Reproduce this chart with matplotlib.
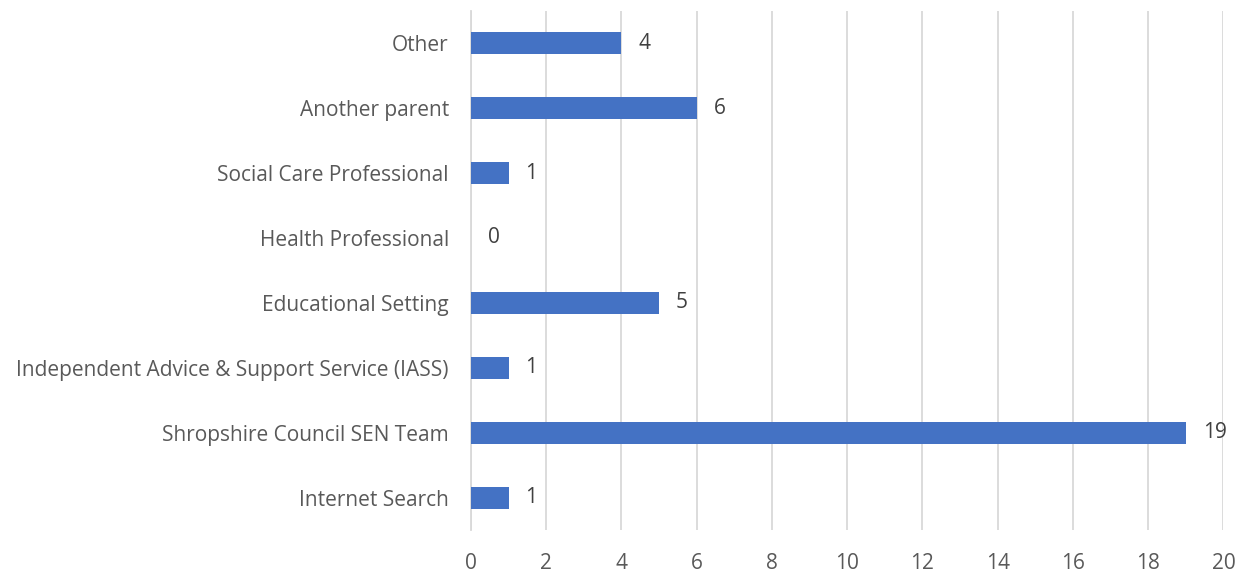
import matplotlib
matplotlib.use("Agg")
import matplotlib.pyplot as plt

categories = ["Internet Search", "Shropshire Council SEN Team",
              "Independent Advice & Support Service (IASS)", "Educational Setting",
              "Health Professional", "Social Care Professional", "Another parent", "Other"]
values = [1, 19, 1, 5, 0, 1, 6, 4]
x_ticks = list(range(0, 21, 2))

plt.rcParams['font.family'] = ['Open Sans', 'DejaVu Sans']

fig = plt.figure(figsize=(12.51, 5.74), dpi=100)
ax = fig.add_axes([0.3765, 0.0758, 0.978 - 0.3765, 0.9817 - 0.0758])

ypos = range(len(categories))
ax.barh(ypos, values, height=0.35, color='#4472C4', zorder=3)
for y, v in zip(ypos, values):
    ax.text(v + 0.45, y, str(v), va='center', ha='left', fontsize=15, color='#404040')

ax.set_xlim(0, 20)
ax.set_ylim(-0.5, len(categories) - 0.5)
ax.set_xticks(x_ticks)
ax.set_yticks(list(ypos))
ax.set_yticklabels(categories)
ax.tick_params(axis='both', length=0, labelsize=15, labelcolor='#595959')
ax.tick_params(axis='x', pad=16)
ax.tick_params(axis='y', pad=16)
ax.grid(axis='x', color='#D9D9D9', linewidth=1.3, zorder=0)
for s in ['top', 'right', 'bottom']:
    ax.spines[s].set_visible(False)
ax.spines['left'].set_color('#D9D9D9')
ax.spines['left'].set_linewidth(1.3)

fig.savefig('out.png', dpi=100)
